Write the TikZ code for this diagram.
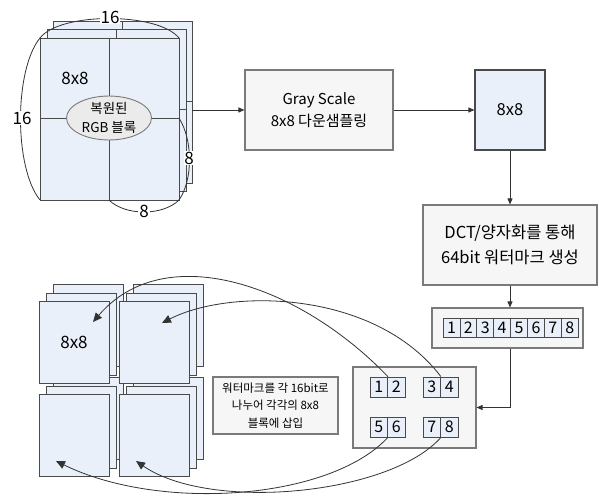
\documentclass[tikz,border=0pt]{standalone}
\usepackage{fontspec}
\setmainfont{Noto Sans CJK KR}
\usetikzlibrary{arrows.meta,shapes.geometric}
\definecolor{blk}{HTML}{E9F0FA}
\definecolor{edge}{HTML}{4A4A4A}
\definecolor{boxfill}{HTML}{F6F6F6}
\definecolor{boxedge}{HTML}{7A7A7A}
\definecolor{ellfill}{HTML}{EBEBEB}
\definecolor{ink}{HTML}{333333}
\begin{document}
\begin{tikzpicture}[x=1pt,y=-1pt,
  layer/.style={draw=edge, fill=blk, line width=0.9pt},
  divline/.style={draw=edge, line width=0.9pt},
  procbox/.style={draw=boxedge, fill=boxfill, line width=1.1pt, align=center, inner sep=0pt},
  cell/.style={draw=edge, fill=blk, line width=0.8pt, minimum height=19pt, inner sep=0pt, font=\fontsize{16}{18}\selectfont},
  link/.style={draw=ink, line width=0.8pt},
  tip/.style={-{Triangle[length=6pt,width=5pt]}},
  bigtip/.style={-{Triangle[length=9pt,width=8pt]}},
  dimlbl/.style={fill=white, inner sep=1pt, font=\fontsize{17}{19}\selectfont},
  lbl/.style={font=\fontsize{17}{19}\selectfont, inner sep=0pt},
]
\useasboundingbox (0,0) rectangle (599,495);
\fill[white] (0,0) rectangle (599,495);

% ---------- top-left 16x16 RGB block ----------
\foreach \dx/\dy in {13/-17, 7/-9, 0/0}{
  \begin{scope}[shift={(\dx,\dy)}]
    \draw[layer] (40,38) rectangle (179,200);
    \draw[divline] (109,38) -- (109,200) (40,118) -- (179,118);
  \end{scope}
}
\node[lbl] (t88) at (75,78) {8x8};
\node[ellipse, draw=boxedge, fill=ellfill, line width=0.9pt, minimum width=85pt, minimum height=41pt, inner sep=0pt, align=center, font=\fontsize{13.5}{19}\selectfont] (rgb) at (109,118) {복원된\\RGB 블록};

\coordinate (tl) at (40,38);
\coordinate (tr) at (179,38);
\coordinate (bl) at (40,200);
\coordinate (bm) at (109,200);
\coordinate (br) at (179,200);
\coordinate (rm) at (179,118);
\draw[link] (tl) .. controls (60,12) and (158,12) .. (tr);
\draw[link] (tl) .. controls (14,70) and (14,168) .. (bl);
\draw[link] (rm) .. controls (193,140) and (193,180) .. (br);
\draw[link] (bm) .. controls (125,216) and (163,216) .. (br);
\node[dimlbl] (d16a) at (110,17) {16};
\node[dimlbl] (d16b) at (22,118) {16};
\node[dimlbl, inner sep=0.5pt] (d8a) at (189,158) {8};
\node[dimlbl] (d8b) at (144,211) {8};

% ---------- process boxes ----------
\node[procbox, minimum width=148pt, minimum height=80pt, font=\fontsize{15}{22}\selectfont] (gray) at (319,110) {Gray Scale\\8x8 다운샘플링};
\node[procbox, fill=blk, draw=edge, minimum width=70pt, minimum height=80pt, font=\fontsize{16.5}{18}\selectfont] (small) at (510,110) {8x8};
\node[procbox, minimum width=174pt, minimum height=80pt, font=\fontsize{16.5}{25}\selectfont] (dct) at (510,245) {DCT/양자화를 통해\\64bit 워터마크 생성};
\node[procbox, minimum width=151pt, minimum height=40pt] (bits) at (507.5,328) {};
\foreach \i in {1,...,8}{
  \node[cell, minimum width=16.9pt] (b\i) at ({443+16.9*(\i-0.5)},327.5) {\i};
}
\node[procbox, minimum width=123pt, minimum height=81pt] (split) at (414.5,407.5) {};
\node[cell, minimum width=17.5pt, minimum height=20pt] (p1) at (378.75,387) {1};
\node[cell, minimum width=17.5pt, minimum height=20pt] (p2) at (396.25,387) {2};
\node[cell, minimum width=17.5pt, minimum height=20pt] (p3) at (431.75,387) {3};
\node[cell, minimum width=17.5pt, minimum height=20pt] (p4) at (449.25,387) {4};
\node[cell, minimum width=17.5pt, minimum height=20pt] (p5) at (378.75,427) {5};
\node[cell, minimum width=17.5pt, minimum height=20pt] (p6) at (396.25,427) {6};
\node[cell, minimum width=17.5pt, minimum height=20pt] (p7) at (431.75,427) {7};
\node[cell, minimum width=17.5pt, minimum height=20pt] (p8) at (449.25,427) {8};
\node[procbox, minimum width=125pt, minimum height=57pt, font=\fontsize{11.5}{17.5}\selectfont] (note) at (275.5,405.5) {워터마크를 각 16bit로\\나누어 각각의 8x8\\블록에 삽입};

% ---------- connectors (top) ----------
\coordinate (blkout) at (192,110);
\draw[link, tip] (blkout) -- (gray.west);
\draw[link, tip] (gray.east) -- (small.west);
\draw[link, tip] (small.south) -- (dct.north);
\draw[link, tip] (dct.south) -- (dct.south |- bits.north);
\draw[link, tip] (dct.south |- bits.south) |- (split.east);

% ---------- lower-left 8x8 block stacks ----------
\foreach \gx/\gy in {39/394, 119/394, 39/301, 119/301}{
  \foreach \dx/\dy in {14/-17, 7/-8, 0/0}{
    \draw[layer] ({\gx+\dx},{\gy+\dy}) rectangle ++(70,82);
  }
}
\node[lbl] (q88) at (74,342) {8x8};

\coordinate (a1) at (93,322);
\coordinate (a2) at (162,323);
\coordinate (a3) at (56,461);
\coordinate (a4) at (136,461);
\draw[link, bigtip] (p1.north east) .. controls (300,285) and (165,238) .. (a1);
\draw[link, bigtip] (p3.north east) .. controls (375,290) and (230,288) .. (a2);
\draw[link, bigtip] (p5.south east) .. controls (330,500) and (160,512) .. (a3);
\draw[link, bigtip] (p7.south east) .. controls (390,495) and (210,512) .. (a4);
\end{tikzpicture}
\end{document}
